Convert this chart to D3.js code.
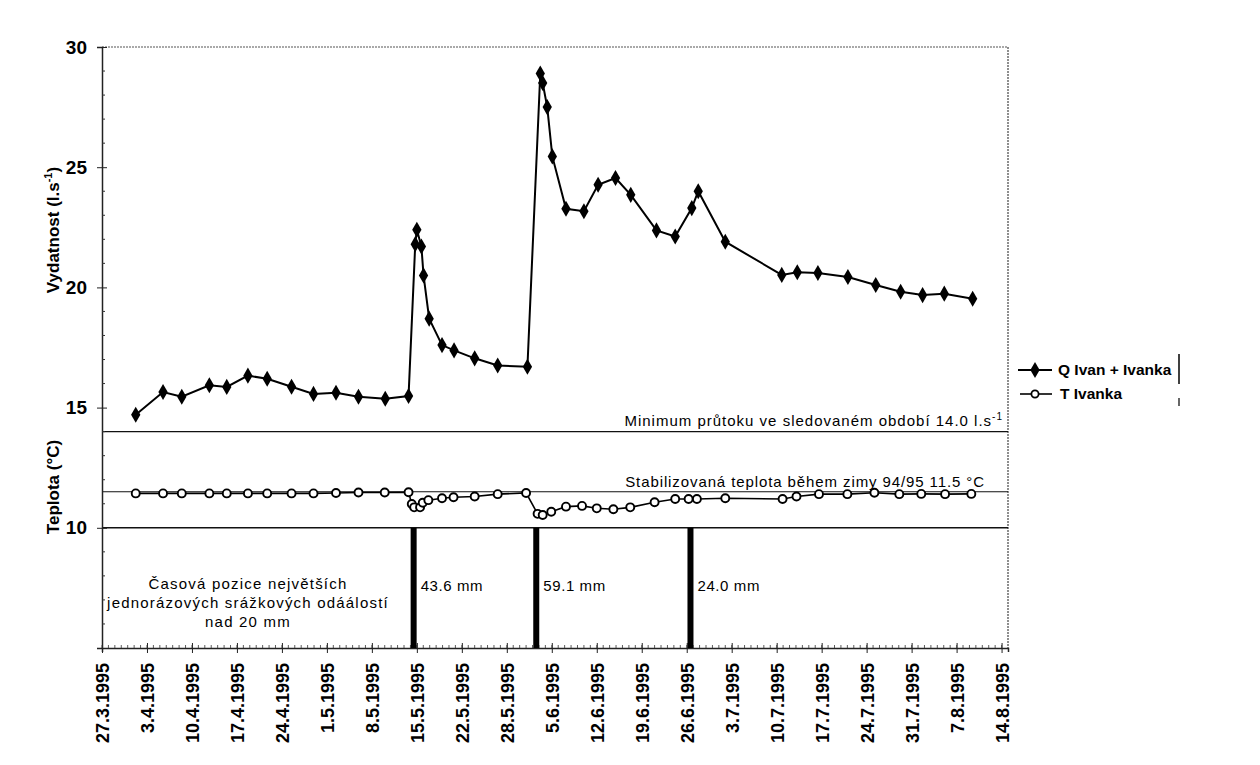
<!DOCTYPE html>
<html><head><meta charset="utf-8">
<script src="https://cdn.jsdelivr.net/npm/d3@7"></script>
<style>
html,body{margin:0;padding:0;background:#fff;}
svg{display:block;font-family:Arial,"Liberation Sans",sans-serif;}
</style></head>
<body><svg id="c" width="1260" height="765"></svg>
<script>
// ---------- DATA ----------
const qDates = ["1995-04-01T06","1995-04-05T12","1995-04-08T10","1995-04-12T17","1995-04-15T10","1995-04-18T17","1995-04-21T17","1995-04-25T12","1995-04-28T22","1995-05-02T10","1995-05-05T22","1995-05-10T02","1995-05-13T17","1995-05-14T18","1995-05-15T00","1995-05-15T17","1995-05-16T01","1995-05-16T22","1995-05-18T22","1995-05-20T19","1995-05-24T00","1995-05-27T14","1995-06-01T05","1995-06-03T05","1995-06-03T14","1995-06-04T07","1995-06-05T02","1995-06-07T05","1995-06-10T00","1995-06-12T05","1995-06-14T22","1995-06-17T07","1995-06-21T07","1995-06-24T05","1995-06-26T19","1995-06-27T19","1995-07-02T00","1995-07-10T19","1995-07-13T05","1995-07-16T10","1995-07-21T02","1995-07-25T10","1995-07-29T07","1995-08-01T17","1995-08-05T02","1995-08-09T12"];
const qValues = [14.7,15.65,15.45,15.93,15.86,16.33,16.2,15.87,15.57,15.62,15.45,15.37,15.48,21.8,22.4,21.7,20.5,18.7,17.6,17.38,17.05,16.75,16.7,28.9,28.5,27.5,25.45,23.27,23.17,24.27,24.55,23.85,22.37,22.12,23.3,24.0,21.9,20.52,20.63,20.6,20.43,20.1,19.82,19.68,19.74,19.53];

const tDates = ["1995-04-01T06","1995-04-05T12","1995-04-08T10","1995-04-12T17","1995-04-15T10","1995-04-18T17","1995-04-21T17","1995-04-25T12","1995-04-28T22","1995-05-02T10","1995-05-05T22","1995-05-10T00","1995-05-13T17","1995-05-14T05","1995-05-14T14","1995-05-15T12","1995-05-15T22","1995-05-16T19","1995-05-18T22","1995-05-20T17","1995-05-24T00","1995-05-27T14","1995-06-01T00","1995-06-02T19","1995-06-03T14","1995-06-04T22","1995-06-07T05","1995-06-09T17","1995-06-12T00","1995-06-14T14","1995-06-17T05","1995-06-21T00","1995-06-24T05","1995-06-26T07","1995-06-27T14","1995-07-02T00","1995-07-10T22","1995-07-13T02","1995-07-16T14","1995-07-21T00","1995-07-25T05","1995-07-29T02","1995-08-01T12","1995-08-05T05","1995-08-09T07"];
const tValues = [11.43,11.43,11.43,11.43,11.43,11.43,11.43,11.43,11.43,11.45,11.47,11.47,11.48,10.99,10.85,10.85,11.04,11.15,11.23,11.27,11.3,11.4,11.45,10.58,10.53,10.67,10.88,10.91,10.81,10.77,10.85,11.06,11.2,11.2,11.2,11.23,11.2,11.3,11.4,11.4,11.46,11.4,11.41,11.4,11.41];

const rainDates = ["1995-05-14T12","1995-06-02T14","1995-06-26T14"];
const rainLabels = ["43.6 mm","59.1 mm","24.0 mm"];

const xTickDates = ["1995-03-27","1995-04-03","1995-04-10","1995-04-17","1995-04-24","1995-05-01","1995-05-08","1995-05-15","1995-05-22","1995-05-29","1995-06-05","1995-06-12","1995-06-19","1995-06-26","1995-07-03","1995-07-10","1995-07-17","1995-07-24","1995-07-31","1995-08-07","1995-08-14"];
const xTickLabels = ["27.3.1995","3.4.1995","10.4.1995","17.4.1995","24.4.1995","1.5.1995","8.5.1995","15.5.1995","22.5.1995","28.5.1995","5.6.1995","12.6.1995","19.6.1995","26.6.1995","3.7.1995","10.7.1995","17.7.1995","24.7.1995","31.7.1995","7.8.1995","14.8.1995"];
const yTickValues = [10,15,20,25,30];
const refValues = [14.0, 11.5, 10];

// ---------- CHART ----------
const parse = s => new Date(s.length > 10 ? s + ":00:00" : s + "T00:00:00");
const svg = d3.select("#c");
const L = 102, R = 1008, T = 47, B = 648;
const x = d3.scaleTime().domain([parse("1995-03-27"), parse("1995-08-15")]).range([L, R]);
const y = d3.scaleLinear().domain([5, 30]).range([B, T]);

// frame (dotted top / right)
svg.append("line").attr("x1", L).attr("x2", R).attr("y1", T).attr("y2", T)
  .attr("stroke", "#555").attr("stroke-width", 1.2).attr("stroke-dasharray", "2,1");
svg.append("line").attr("x1", R).attr("x2", R).attr("y1", T).attr("y2", B)
  .attr("stroke", "#444").attr("stroke-width", 1.2).attr("stroke-dasharray", "2,1");

// reference lines
svg.selectAll(".ref").data(refValues).enter().append("line")
  .attr("x1", L).attr("x2", R).attr("y1", d => y(d)).attr("y2", d => y(d))
  .attr("stroke", "#111").attr("stroke-width", d => d === 11.5 ? 1.1 : 1.4);

// y axis
const yAxis = d3.axisLeft(y).tickValues(yTickValues).tickSize(5).tickFormat(d3.format("d"));
const gy = svg.append("g").attr("transform", `translate(${L},0)`).call(yAxis);
gy.select(".domain").attr("stroke", "#222").attr("stroke-width", 1.5);
gy.selectAll(".tick line").attr("x1", -5).attr("x2", 5).attr("stroke", "#222");
gy.selectAll(".tick text").attr("x", -15).attr("font-size", 19).attr("font-weight", "bold").attr("fill", "#000");
// minor y ticks
svg.append("g").selectAll("line").data(d3.range(5, 30.01, 1).filter(v => v % 5 !== 0)).enter().append("line")
  .attr("x1", L).attr("x2", L + 3).attr("y1", d => y(d)).attr("y2", d => y(d)).attr("stroke", "#333");

// x axis
const xAxis = d3.axisBottom(x).tickValues(xTickDates.map(parse)).tickSize(4)
  .tickFormat((d, i) => xTickLabels[i]);
const gx = svg.append("g").attr("transform", `translate(0,${B})`).call(xAxis);
gx.select(".domain").attr("stroke", "#222").attr("stroke-width", 1.5);
gx.selectAll(".tick line").attr("y1", -5).attr("y2", 5).attr("stroke", "#222");
gx.selectAll(".tick text").attr("transform", "rotate(-90)").attr("text-anchor", "end")
  .attr("x", -15).attr("y", 0).attr("dy", "0.36em").attr("font-size", 18).attr("font-weight", "bold").attr("fill", "#000");
// minor daily ticks
svg.append("g").selectAll("line").data(d3.timeDay.range(parse("1995-03-27"), parse("1995-08-15"))).enter().append("line")
  .attr("x1", d => x(d)).attr("x2", d => x(d)).attr("y1", B - 3).attr("y2", B).attr("stroke", "#333").attr("stroke-width", 0.8);

// rain bars
svg.selectAll(".rain").data(rainDates).enter().append("rect")
  .attr("x", d => x(parse(d)) - 3).attr("width", 6)
  .attr("y", y(10)).attr("height", y(5) - y(10)).attr("fill", "#000");
svg.selectAll(".rainlbl").data(rainDates).enter().append("text")
  .attr("x", d => x(parse(d)) + 7).attr("y", 591)
  .attr("font-size", 15).attr("letter-spacing", 0.6).attr("fill", "#000").text((d, i) => rainLabels[i]);

// description text
const desc = svg.append("text").attr("text-anchor", "middle").attr("font-size", 15).attr("letter-spacing", 1.2).attr("fill", "#000");
["Časová pozice největších", "jednorázových srážkových odáálostí", "nad 20 mm"].forEach((t, i) =>
  desc.append("tspan").attr("x", 248).attr("y", 589 + i * 19).text(t));

// annotations
const a1 = svg.append("text").attr("x", 1003).attr("y", y(14) - 6).attr("text-anchor", "end")
  .attr("font-size", 15).attr("letter-spacing", 1).attr("fill", "#000");
a1.append("tspan").text("Minimum průtoku ve sledovaném období  14.0 l.s");
a1.append("tspan").attr("dy", -6).attr("font-size", 10).text("-1");
svg.append("text").attr("x", 985).attr("y", y(11.5) - 5).attr("text-anchor", "end")
  .attr("font-size", 15).attr("letter-spacing", 0.9).attr("fill", "#000").text("Stabilizovaná teplota během zimy 94/95  11.5 °C");

// Q line
const qData = qDates.map((d, i) => ({ d: parse(d), v: qValues[i] }));
const line = d3.line().x(p => x(p.d)).y(p => y(p.v));
svg.append("path").datum(qData).attr("d", line).attr("fill", "none").attr("stroke", "#000").attr("stroke-width", 2);
const diamond = d3.symbol().type(d3.symbolDiamond).size(75);
svg.selectAll(".qp").data(qData).enter().append("path")
  .attr("d", diamond).attr("transform", p => `translate(${x(p.d)},${y(p.v)})`).attr("fill", "#000");

// T line
const tData = tDates.map((d, i) => ({ d: parse(d), v: tValues[i] }));
svg.append("path").datum(tData).attr("d", line).attr("fill", "none").attr("stroke", "#000").attr("stroke-width", 1.6);
svg.selectAll(".tp").data(tData).enter().append("circle")
  .attr("cx", p => x(p.d)).attr("cy", p => y(p.v)).attr("r", 4)
  .attr("fill", "#fff").attr("stroke", "#000").attr("stroke-width", 1.9);

// axis titles
const yt1 = svg.append("text").attr("transform", "translate(59,230) rotate(-90)").attr("text-anchor", "middle")
  .attr("font-size", 17).attr("font-weight", "bold").attr("fill", "#000");
yt1.append("tspan").text("Vydatnost (l.s");
yt1.append("tspan").attr("dy", -7).attr("font-size", 11).text("-1");
yt1.append("tspan").attr("dy", 7).text(")");
svg.append("text").attr("transform", "translate(59,487) rotate(-90)").attr("text-anchor", "middle")
  .attr("font-size", 17).attr("font-weight", "bold").attr("fill", "#000").text("Teplota (°C)");

// legend
const lg = svg.append("g");
lg.append("line").attr("x1", 1018).attr("x2", 1052).attr("y1", 370).attr("y2", 370).attr("stroke", "#000").attr("stroke-width", 2);
lg.append("path").attr("d", diamond).attr("transform", "translate(1035,370)").attr("fill", "#000");
lg.append("text").attr("x", 1058).attr("y", 375).attr("font-size", 15.5).attr("font-weight", "bold").text("Q Ivan + Ivanka");
lg.append("line").attr("x1", 1020).attr("x2", 1052).attr("y1", 394).attr("y2", 394).attr("stroke", "#000").attr("stroke-width", 1.6);
lg.append("circle").attr("cx", 1035).attr("cy", 394).attr("r", 3.6).attr("fill", "#fff").attr("stroke", "#000").attr("stroke-width", 1.8);
lg.append("text").attr("x", 1060).attr("y", 399).attr("font-size", 15.5).attr("font-weight", "bold").text("T  Ivanka");
lg.append("line").attr("x1", 1179).attr("x2", 1179).attr("y1", 354).attr("y2", 384).attr("stroke", "#000").attr("stroke-width", 1.5);
lg.append("line").attr("x1", 1179).attr("x2", 1179).attr("y1", 398).attr("y2", 406).attr("stroke", "#000").attr("stroke-width", 1.2);
</script></body></html>
